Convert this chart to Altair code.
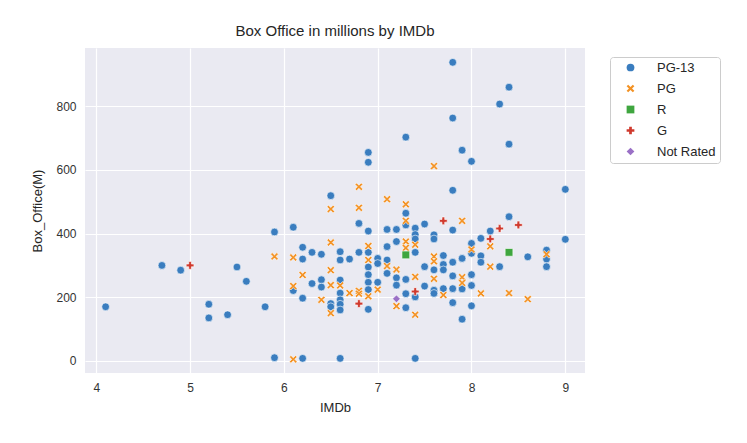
import altair as alt
import pandas as pd

categories = ["PG-13", "PG", "R", "G", "Not Rated"]
colors = ["#3a7dbf", "#f39224", "#3fa63f", "#d03a2e", "#9a70c6"]

pg13_imdb = [4.1, 4.7, 4.9, 5.2, 5.2, 5.4, 5.5, 5.6, 5.8, 5.9, 5.9,
             6.1, 6.1, 6.2, 6.2, 6.2, 6.2, 6.3, 6.3, 6.4, 6.4, 6.4,
             6.5, 6.5, 6.5,
             6.6, 6.6, 6.6, 6.6, 6.6, 6.6, 6.6, 6.6,
             6.7,
             6.8, 6.8,
             6.9, 6.9, 6.9, 6.9, 6.9, 6.9, 6.9, 6.9, 6.9,
             7.0, 7.0, 7.0,
             7.1, 7.1, 7.1, 7.1,
             7.2, 7.2, 7.2, 7.2,
             7.3, 7.3, 7.3, 7.3, 7.3, 7.3,
             7.4, 7.4, 7.4, 7.4, 7.4, 7.4,
             7.5, 7.5, 7.5,
             7.6, 7.6, 7.6, 7.6, 7.6,
             7.7, 7.7, 7.7, 7.7,
             7.8, 7.8, 7.8, 7.8, 7.8, 7.8, 7.8, 7.8,
             7.9, 7.9, 7.9, 7.9,
             8.0, 8.0, 8.0, 8.0, 8.0, 8.0,
             8.1, 8.1, 8.1,
             8.2,
             8.3, 8.3,
             8.4, 8.4, 8.4,
             8.6,
             8.8, 8.8, 8.8,
             9.0, 9.0]
pg13_box = [170, 300, 285, 178, 135, 145, 295, 250, 170, 405, 10,
            420, 221, 8, 357, 320, 197, 341, 243, 335, 255, 232,
            519, 180, 170,
            343, 317, 254, 213, 192, 178, 160, 8,
            320,
            432, 341,
            655, 624, 408, 341, 295, 271, 247, 224, 162,
            322, 306, 247,
            413, 359, 317, 275,
            413, 375, 261, 238,
            703, 464, 427, 256, 211, 167,
            417, 397, 383, 341, 201, 8,
            430, 296, 235,
            396, 383, 286, 222, 212,
            331, 303, 286, 227,
            938, 763, 536, 411, 310, 267, 227, 183,
            662, 322, 226, 131,
            627, 369, 338, 271, 237, 173,
            385, 330, 310,
            408,
            807, 296,
            860, 681, 453,
            327,
            348, 320, 296,
            539, 382]

pg_imdb = [5.9, 6.1, 6.1, 6.1, 6.2, 6.4, 6.5, 6.5, 6.5, 6.5, 6.5,
           6.6, 6.7, 6.8, 6.8, 6.8, 6.8,
           6.9, 6.9, 6.9,
           7.0,
           7.1, 7.1,
           7.2, 7.2,
           7.3, 7.3, 7.3, 7.3,
           7.4, 7.4, 7.4,
           7.6, 7.6, 7.6, 7.6,
           7.7,
           7.9, 7.9, 7.9,
           8.0,
           8.1,
           8.2, 8.2,
           8.4,
           8.6,
           8.8]
pg_box = [328, 325, 5, 235, 270, 192, 477, 372, 285, 238, 150,
          237, 213, 547, 481, 220, 211,
          361, 317, 203,
          224,
          508, 298,
          287, 172,
          492, 440, 375, 355,
          365, 264, 145,
          612, 328, 313, 258,
          207,
          440, 263, 245,
          350,
          212,
          360, 296,
          213,
          194,
          335]

r_imdb = [7.3, 8.4]
r_box = [333, 341]

g_imdb = [5.0, 6.8, 7.4, 7.7, 8.2, 8.3, 8.5]
g_box = [300, 180, 218, 440, 383, 416, 427]

nr_imdb = [7.2]
nr_box = [195]

rows = []
for cat, xs, ys in [("PG-13", pg13_imdb, pg13_box), ("PG", pg_imdb, pg_box),
                    ("R", r_imdb, r_box), ("G", g_imdb, g_box),
                    ("Not Rated", nr_imdb, nr_box)]:
    for x, y in zip(xs, ys):
        rows.append({"IMDb": x, "Box_Office(M)": y, "Rated": cat})
df = pd.DataFrame(rows)
df["order"] = range(len(df))

x_shape = "M-1,-0.6L-0.6,-1L0,-0.4L0.6,-1L1,-0.6L0.4,0L1,0.6L0.6,1L0,0.4L-0.6,1L-1,0.6L-0.4,0Z"
plus_shape = "M-0.35,-1L0.35,-1L0.35,-0.35L1,-0.35L1,0.35L0.35,0.35L0.35,1L-0.35,1L-0.35,0.35L-1,0.35L-1,-0.35L-0.35,-0.35Z"
shapes = ["circle", x_shape, "square", plus_shape, "diamond"]

chart = alt.Chart(df).mark_point(filled=True, opacity=1, stroke="white", strokeWidth=0.6).encode(
    x=alt.X("IMDb:Q", scale=alt.Scale(domain=[3.88, 9.21], nice=False, zero=False),
            axis=alt.Axis(values=[4, 5, 6, 7, 8, 9], title="IMDb")),
    y=alt.Y("Box_Office(M):Q", scale=alt.Scale(domain=[-38, 983], nice=False, zero=False),
            axis=alt.Axis(values=[0, 200, 400, 600, 800], title="Box_Office(M)")),
    color=alt.Color("Rated:N", scale=alt.Scale(domain=categories, range=colors),
                    legend=alt.Legend(title=None, orient="none", legendX=525, legendY=9,
                                      symbolSize=60, labelFontSize=13, rowPadding=7,
                                      labelOffset=20, padding=4, offset=0, symbolOffset=10,
                                      strokeColor="#cccccc", fillColor="#ffffff",
                                      cornerRadius=3, symbolStrokeWidth=0)),
    shape=alt.Shape("Rated:N", scale=alt.Scale(domain=categories, range=shapes), legend=None),
    size=alt.value(60),
    order=alt.Order("order:Q"),
).properties(
    width=500, height=325,
    title=alt.TitleParams("Box Office in millions by IMDb", fontSize=15, fontWeight="normal",
                          color="#262626", font="Liberation Sans", offset=9),
    autosize=alt.AutoSizeParams(type="none"),
    padding={"left": 77, "top": 40, "right": 154, "bottom": 62},
).configure_view(
    fill="#eaeaf2", stroke=None
).configure_axis(
    grid=True, gridColor="white", gridWidth=1.2, domain=False, ticks=False,
    labelFont="Liberation Sans", labelFontSize=12, labelColor="#333333", labelPadding=9,
    titleFont="Liberation Sans", titleFontSize=13, titleFontWeight="normal", titleColor="#262626",
).configure_axisY(
    titlePadding=11
).configure_axisX(
    titlePadding=8
).configure_legend(
    labelFont="Liberation Sans", labelColor="#262626"
)

chart.save("out.html", embed_options={"renderer": "svg", "actions": False})
